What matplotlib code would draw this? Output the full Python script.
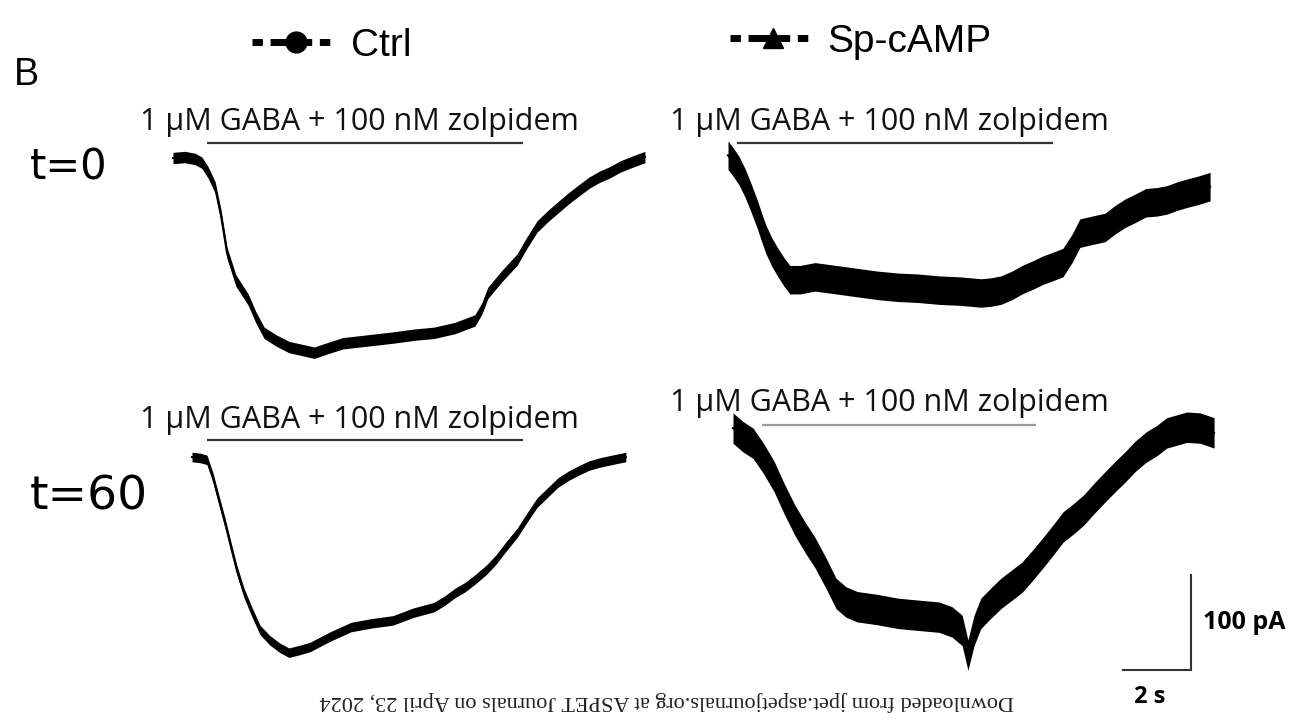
import matplotlib
matplotlib.use('Agg')
import matplotlib.pyplot as plt
from matplotlib.lines import Line2D

# --- data (time in s from trace start, current in pA) ---
ctrl0_t = [0, 0.35, 0.65, 0.85, 1.03, 1.24, 1.41, 1.59, 1.85, 2.21, 2.44, 2.68,
           3.03, 3.41, 3.79, 4.15, 4.56, 5.0, 5.74, 6.47, 7.09, 7.68, 8.29,
           8.88, 9.09, 9.26, 9.68, 10.12, 10.41, 10.71, 11.03, 11.32, 11.65,
           11.94, 12.24, 12.53, 12.85, 13.15, 13.5, 13.88]
ctrl0_i = [0, 1, -1, -5, -15, -31, -60, -100, -129, -149, -168, -184,
           -192, -199, -202, -205, -200, -195, -192, -189, -186, -184, -179,
           -171, -158, -142, -124, -107, -89, -72, -61, -52, -42,
           -34, -26, -20, -15, -9, -4, 1]

camp0_t = [0, 0.15, 0.32, 0.5, 0.68, 0.85, 1.0, 1.12, 1.29, 1.47, 1.65, 1.82,
           2.12, 2.56, 3.18, 3.79, 4.41, 5.0, 5.59, 6.21, 6.82, 7.44, 7.74,
           8.03, 8.35, 8.65, 8.97, 9.26, 9.56, 9.85, 10.12, 10.35, 10.71,
           11.09, 11.38, 11.68, 11.97, 12.29, 12.62, 12.91, 13.21, 13.5,
           13.82, 14.18]
camp0_i = [5, -2, -11, -24, -40, -56, -72, -84, -97, -108, -118, -126,
           -126, -123, -126, -129, -132, -134, -135, -137, -138, -140, -139,
           -137, -132, -126, -121, -116, -112, -108, -93, -77, -74,
           -71, -63, -56, -51, -45, -44, -42, -38, -35,
           -32, -28]

ctrl60_t = [0, 0.24, 0.44, 0.62, 0.79, 0.97, 1.15, 1.32, 1.53, 1.76, 2.0, 2.29,
            2.59, 2.85, 3.18, 3.47, 4.06, 4.68, 5.29, 5.91, 6.5, 7.12, 7.44,
            7.74, 8.03, 8.32, 8.65, 8.94, 9.24, 9.56, 9.85, 10.15, 10.47,
            10.76, 11.06, 11.38, 11.68, 11.97, 12.35, 12.76]
ctrl60_i = [0, -1, -3, -22, -45, -69, -95, -119, -143, -163, -182, -193,
            -201, -206, -203, -200, -189, -179, -175, -172, -164, -158, -151,
            -143, -137, -129, -119, -108, -94, -80, -64, -48, -37,
            -27, -20, -14, -9, -6, -3, 0]

camp60_t = [0, 0.29, 0.59, 0.88, 1.21, 1.5, 1.82, 2.12, 2.41, 2.74, 3.03, 3.32,
            3.65, 4.24, 4.85, 5.44, 6.06, 6.44, 6.74, 6.91, 7.09, 7.29, 7.59,
            7.88, 8.21, 8.5, 8.82, 9.12, 9.41, 9.71, 10.03, 10.32, 10.62,
            10.94, 11.24, 11.53, 11.82, 12.15, 12.47, 12.76, 13.06, 13.35,
            13.74, 14.15]
camp60_i = [2, -7, -14, -29, -49, -72, -95, -113, -129, -151, -172, -181,
            -186, -189, -193, -195, -197, -202, -211, -237, -211, -193, -182,
            -172, -163, -155, -142, -129, -116, -102, -93, -84, -72,
            -60, -49, -39, -28, -18, -11, -3, 0, 3,
            2, -3]

# noise half-width of each trace (pA)
noise_pa = [6, 15, 5, 16]

# drug application (s)
gaba_on = [1.0, 0.26, 0.44, 0.85]
gaba_off = [10.3, 9.56, 9.74, 8.91]

drug_label = '1 \u00b5M GABA + 100 nM zolpidem'
row_labels = ['t=0', 't=60']
groups = ['Ctrl', 'Sp-cAMP']

scale_t = 2      # s
scale_i = 100    # pA

# --- layout ---
W, H = 1300, 719
PX_S = 34.0      # pixels per second
PX_PA = 0.95     # pixels per pA
T_MIN, T_MAX = -1, 15
I_MIN, I_MAX = -270, 40

fig = plt.figure(figsize=(W / 100, H / 100), dpi=100)
fig.patch.set_facecolor('white')

ax0 = fig.add_axes([0, 0, 1, 1])
ax0.set_xlim(0, W)
ax0.set_ylim(H, 0)
ax0.axis('off')


def trace_axes(x0, y0):
    left = x0 + T_MIN * PX_S
    top = y0 - I_MAX * PX_PA
    w = (T_MAX - T_MIN) * PX_S
    h = (I_MAX - I_MIN) * PX_PA
    ax = fig.add_axes([left / W, 1 - (top + h) / H, w / W, h / H])
    ax.set_xlim(T_MIN, T_MAX)
    ax.set_ylim(I_MIN, I_MAX)
    ax.axis('off')
    ax.patch.set_alpha(0)
    return ax


traces = [(ctrl0_t, ctrl0_i), (camp0_t, camp0_i),
          (ctrl60_t, ctrl60_i), (camp60_t, camp60_i)]
origins = [(173, 158), (728, 160), (192, 457), (733, 430)]
bar_y = [15.8, 17.9, 17.9, 5.3]
bar_color = ['#333333', '#333333', '#333333', '#9a9a9a']
label_pos = [(140, 122), (670, 122), (140, 420), (670, 403)]

axes = []
for k, (t, i) in enumerate(traces):
    ax = trace_axes(*origins[k])
    lo = [v - noise_pa[k] for v in i]
    hi = [v + noise_pa[k] for v in i]
    ax.fill_between(t, lo, hi, color='black', lw=0)
    ax.plot(t, i, color='black', lw=1.5)
    ax.plot([gaba_on[k], gaba_off[k]], [bar_y[k], bar_y[k]],
            color=bar_color[k], lw=1.6, solid_capstyle='butt')
    ax0.text(label_pos[k][0], label_pos[k][1], drug_label, fontsize=22,
             family='Open Sans', ha='left', va='center', color='#111111')
    axes.append(ax)

# scale bar in the last panel
sb = axes[3]
corner_t, corner_i = 13.47, -253
sb.plot([corner_t - scale_t, corner_t, corner_t],
        [corner_i, corner_i, corner_i + scale_i],
        color='#333333', lw=1.5, solid_joinstyle='miter')
sb.text(corner_t + 0.35, corner_i + scale_i / 2, '%d pA' % scale_i,
        fontsize=18, fontweight='bold', family='Open Sans',
        ha='left', va='center')
sb.text(corner_t - scale_t / 2 - 0.2, corner_i - 28, '%d s' % scale_t,
        fontsize=17, fontweight='bold', family='Open Sans',
        ha='center', va='center')

# panel letter and row labels
ax0.text(14, 75, 'B', fontsize=27, family='Liberation Sans',
         ha='left', va='center')
ax0.text(30, 168, row_labels[0], fontsize=30, family='DejaVu Sans',
         ha='left', va='center')
ax0.text(30, 497, row_labels[1], fontsize=34, family='DejaVu Sans',
         ha='left', va='center')

# legends: short dash, marker segment, short dash
dash = (0, (1.5, 1.1, 6.0, 1.1, 1.5, 20))
h_ctrl = Line2D([0], [0], color='black', lw=5, ls=dash,
                marker='o', ms=15)
h_camp = Line2D([0], [0], color='black', lw=5, ls=dash,
                marker='^', ms=15)
leg1 = fig.legend([h_ctrl], [groups[0]], loc='center left',
                  bbox_to_anchor=(252 / W, 1 - 46 / H), frameon=False,
                  handlelength=2.25, handletextpad=0.3, borderpad=0,
                  borderaxespad=0,
                  prop={'family': 'Liberation Sans', 'size': 28})
leg2 = fig.legend([h_camp], [groups[1]], loc='center left',
                  bbox_to_anchor=(730 / W, 1 - 42 / H), frameon=False,
                  handlelength=2.2, handletextpad=0.3, borderpad=0,
                  borderaxespad=0,
                  prop={'family': 'Liberation Sans', 'size': 28})

# watermark
ax0.text(667, 701,
         'Downloaded from jpet.aspetjournals.org at ASPET Journals on April 23, 2024',
         fontsize=16, family='Liberation Serif', color='#222222',
         rotation=180, ha='center', va='center')

fig.savefig('out.png', dpi=100)
